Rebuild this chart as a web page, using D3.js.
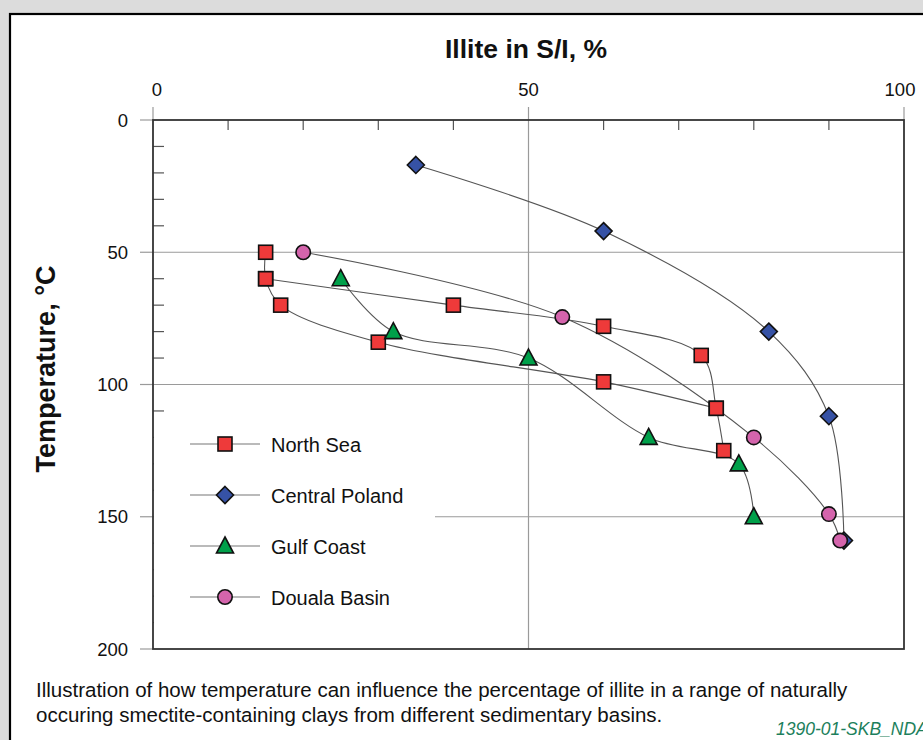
<!DOCTYPE html>
<html><head><meta charset="utf-8">
<script src="https://cdn.jsdelivr.net/npm/d3@7"></script>
<style>
html,body{margin:0;padding:0;background:#dcdcdc;}
svg{display:block;font-family:"Liberation Sans",Arial,sans-serif;}
</style></head>
<body>
<svg id="chart" width="923" height="740"></svg>
<script>
// ---- data ----
const xTicks = [0, 50, 100];
const yTicks = [0, 50, 100, 150, 200];
const seriesNames = ["North Sea", "Central Poland", "Gulf Coast", "Douala Basin"];
const seriesColors = ["#ee3a3a", "#3652a5", "#00a04a", "#d464ac"];
// [illite %, temperature °C]
const northSeaA = [[15,50],[15,60],[17,70],[30,84],[60,99],[75,109]];
const northSeaB = [[15,60],[40,70],[60,78],[73,89],[75,109],[76,125]];
const centralPoland = [[35,17],[60,42],[82,80],[90,112],[92,159]];
const gulfCoast = [[25,60],[32,80],[50,90],[66,120],[78,130],[80,150]];
const doualaBasin = [[20,50],[54.5,74.5],[80,120],[90,149],[91.5,159]];
const caption1 = "Illustration of how temperature can influence the percentage of illite in a range of naturally";
const caption2 = "occuring smectite-containing clays from different sedimentary basins.";
const figId = "1390-01-SKB_NDA";

const svg = d3.select("#chart");
// outer white panel with black frame
svg.append("rect").attr("x",10).attr("y",14).attr("width",930).attr("height",740)
  .attr("fill","#fff").attr("stroke","#000").attr("stroke-width",2.2);

const L=153, R=904, T=120, B=649;
const x = d3.scaleLinear().domain([0,100]).range([L,R]);
const y = d3.scaleLinear().domain([0,200]).range([T,B]);

// gridlines
const g = svg.append("g");
g.selectAll(".hg").data([50,100,150]).join("line")
  .attr("x1",L).attr("x2",R).attr("y1",d=>y(d)).attr("y2",d=>y(d))
  .attr("stroke","#9a9a9a").attr("stroke-width",1.2);
g.append("line").attr("x1",x(50)).attr("x2",x(50)).attr("y1",y(0)).attr("y2",y(200))
  .attr("stroke","#9a9a9a").attr("stroke-width",1.2);

// major ticks outside (gray)
g.selectAll(".mt").data(xTicks).join("line")
  .attr("x1",d=>x(d)).attr("x2",d=>x(d)).attr("y1",T-13).attr("y2",T)
  .attr("stroke","#9a9a9a").attr("stroke-width",1.2);
g.selectAll(".my").data(yTicks).join("line")
  .attr("x1",L-13).attr("x2",L).attr("y1",d=>y(d)).attr("y2",d=>y(d))
  .attr("stroke","#9a9a9a").attr("stroke-width",1.2);

// minor ticks inside
const xMinor = d3.range(10,100,10).filter(d=>d!==50);
const yMinor = d3.range(10,200,10).filter(d=>d%50!==0);
g.selectAll(".nx").data(xMinor).join("line")
  .attr("x1",d=>x(d)).attr("x2",d=>x(d)).attr("y1",T).attr("y2",T+10)
  .attr("stroke","#555").attr("stroke-width",1.2);
g.selectAll(".ny").data(yMinor).join("line")
  .attr("x1",L).attr("x2",L+11).attr("y1",d=>y(d)).attr("y2",d=>y(d))
  .attr("stroke","#555").attr("stroke-width",1.2);

// frame
g.append("rect").attr("x",L).attr("y",T).attr("width",R-L).attr("height",B-T)
  .attr("fill","none").attr("stroke","#333").attr("stroke-width",1.8);

// tick labels
svg.selectAll(".xl").data(xTicks).join("text")
  .attr("x",d=>x(d)+(d===0?4:d===100?-4:0)).attr("y",96).attr("text-anchor","middle")
  .attr("font-size",18.5).attr("fill","#111").text(d=>d);
svg.selectAll(".yl").data(yTicks).join("text")
  .attr("x",128).attr("y",d=>y(d)+6.5).attr("text-anchor","end")
  .attr("font-size",18.5).attr("fill","#111").text(d=>d);

// axis titles
svg.append("text").attr("x",526).attr("y",58).attr("text-anchor","middle")
  .attr("font-size",26.5).attr("font-weight","bold").attr("fill","#111").text("Illite in S/I, %");
svg.append("text").attr("transform","translate(55,369) rotate(-90)").attr("text-anchor","middle")
  .attr("font-size",27).attr("font-weight","bold").attr("fill","#111").text("Temperature, °C");

// legend background
svg.append("rect").attr("x",L+1).attr("y",412).attr("width",435-L-1).attr("height",212).attr("fill","#fff");

// lines
const line = d3.line().x(d=>x(d[0])).y(d=>y(d[1])).curve(d3.curveCatmullRom.alpha(0.5));
const curves = [northSeaA, northSeaB, centralPoland, gulfCoast, doualaBasin];
svg.selectAll(".curve").data(curves).join("path")
  .attr("d",line).attr("fill","none").attr("stroke","#555").attr("stroke-width",1.1);

// markers
function marker(sel, type, color){
  if(type===0){ sel.append("rect").attr("x",-7).attr("y",-7).attr("width",14).attr("height",14); }
  else if(type===1){ sel.append("path").attr("d","M0,-8.5L8.5,0L0,8.5L-8.5,0Z"); }
  else if(type===2){ sel.append("path").attr("d","M0,-9L8.5,7L-8.5,7Z"); }
  else { sel.append("circle").attr("r",7.2); }
  sel.selectAll("*").attr("fill",color).attr("stroke","#111").attr("stroke-width",1.6);
}
const markerSets = [
  {pts: northSeaA.concat(northSeaB), t:0},
  {pts: centralPoland, t:1},
  {pts: gulfCoast, t:2},
  {pts: doualaBasin, t:3}
];
markerSets.forEach(ms=>{
  ms.pts.forEach(p=>{
    const m = svg.append("g").attr("transform",`translate(${x(p[0])},${y(p[1])})`);
    marker(m, ms.t, seriesColors[ms.t]);
  });
});

// legend
const legY = [444, 495, 546, 597];
seriesNames.forEach((name,i)=>{
  const gy = legY[i];
  svg.append("line").attr("x1",190).attr("x2",260).attr("y1",gy).attr("y2",gy)
    .attr("stroke","#777").attr("stroke-width",1.1);
  const m = svg.append("g").attr("transform",`translate(225,${gy})`);
  marker(m, i, seriesColors[i]);
  svg.append("text").attr("x",271).attr("y",gy+8).attr("font-size",20).attr("fill","#111").text(name);
});

// caption
svg.append("text").attr("x",36).attr("y",697).attr("font-size",20.5).attr("fill","#111").text(caption1);
svg.append("text").attr("x",36).attr("y",722).attr("font-size",20.5).attr("fill","#111").text(caption2);
svg.append("text").attr("x",776).attr("y",735).attr("font-size",17.5).attr("font-style","italic")
  .attr("fill","#1d7f5c").text(figId);
</script>
</body></html>
